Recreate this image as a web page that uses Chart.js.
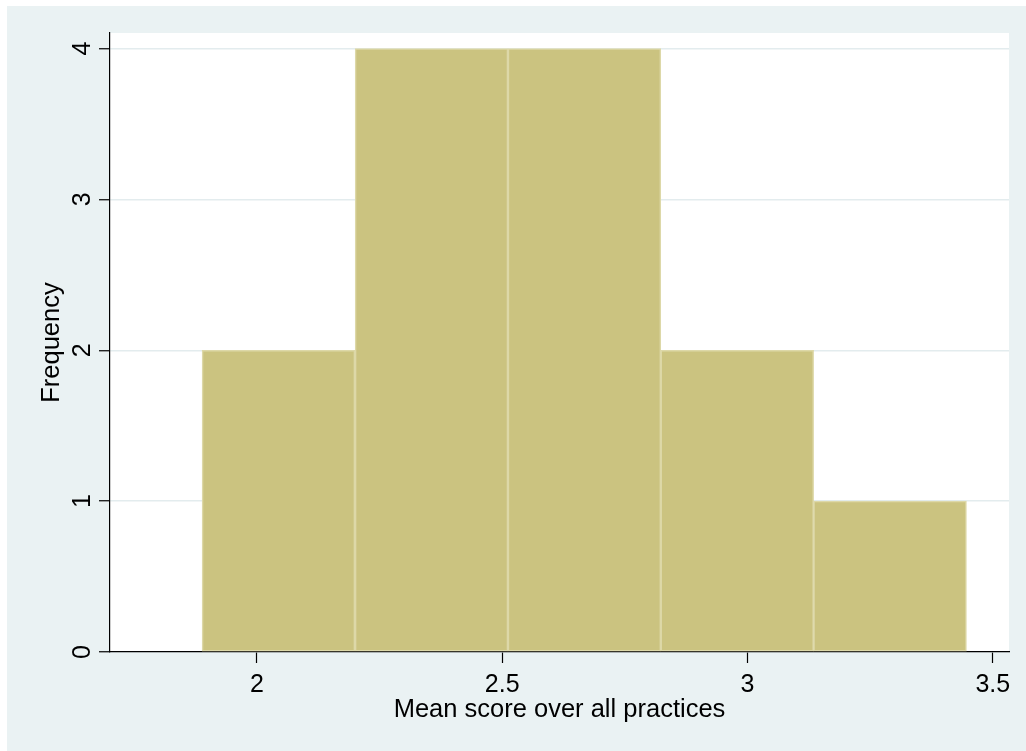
<!DOCTYPE html>
<html>
<head>
<meta charset="utf-8">
<title>Mean score over all practices</title>
<script src="https://cdn.jsdelivr.net/npm/chart.js@4/dist/chart.umd.min.js"></script>
<style>
  html, body { margin: 0; padding: 0; background: #ffffff; }
  #wrap { width: 1026px; height: 751px; position: relative; }
</style>
</head>
<body>
<div id="wrap"><canvas id="hist" width="1026" height="751"></canvas></div>
<script>
// Histogram bins: edges of the five bins and their frequencies
const binEdges = [1.888, 2.2, 2.512, 2.823, 3.135, 3.446];
const frequencies = [2, 4, 4, 2, 1];
const xTickValues = [2, 2.5, 3, 3.5];
const yTickValues = [0, 1, 2, 3, 4];
const xAxisTitle = 'Mean score over all practices';
const yAxisTitle = 'Frequency';

const FONT = '"Liberation Sans", Arial, Helvetica, sans-serif';
const OUTER_BG = '#EAF2F3';
const BAR_FILL = '#CBC380';
const BAR_EDGE = '#DDD8A8';
const GRID = '#E3ECEE';

const points = frequencies.map((f, i) => ({ x: (binEdges[i] + binEdges[i + 1]) / 2, y: f }));

const frame = {
  id: 'frame',
  beforeDraw(chart) {
    const { ctx, chartArea: a } = chart;
    ctx.save();
    ctx.fillStyle = '#ffffff';
    ctx.fillRect(0, 0, chart.width, chart.height);
    ctx.fillStyle = OUTER_BG;
    ctx.fillRect(7, 6, chart.width - 7, chart.height - 6);
    ctx.fillStyle = '#ffffff';
    ctx.fillRect(a.left, a.top, a.right - a.left, a.bottom - a.top);
    ctx.restore();
  },
  afterDraw(chart) {
    const { ctx, chartArea: a } = chart;
    const xs = chart.scales.x, ys = chart.scales.y;
    ctx.save();
    ctx.fillStyle = '#000000';
    // x tick labels
    ctx.font = '25px ' + FONT;
    ctx.textAlign = 'center';
    ctx.textBaseline = 'alphabetic';
    xTickValues.forEach(v => {
      ctx.fillText(String(v), xs.getPixelForValue(v), 692);
    });
    // y tick labels, rotated to read upward
    yTickValues.forEach(v => {
      ctx.save();
      ctx.translate(89.5, ys.getPixelForValue(v));
      ctx.rotate(-Math.PI / 2);
      ctx.fillText(String(v), 0, 0);
      ctx.restore();
    });
    // axis titles
    ctx.font = '25.5px ' + FONT;
    ctx.fillText(xAxisTitle, (a.left + a.right) / 2, 717);
    ctx.save();
    ctx.translate(59, (a.top + a.bottom) / 2);
    ctx.rotate(-Math.PI / 2);
    ctx.fillText(yAxisTitle, 0, 0);
    ctx.restore();
    ctx.restore();
  }
};

new Chart(document.getElementById('hist'), {
  type: 'bar',
  data: {
    datasets: [{
      data: points,
      backgroundColor: BAR_FILL,
      borderColor: BAR_EDGE,
      borderWidth: 1.5,
      borderSkipped: false,
      barPercentage: 1,
      categoryPercentage: 1
    }]
  },
  options: {
    responsive: false,
    devicePixelRatio: 1,
    animation: false,
    layout: { padding: { top: 33, right: 17, left: 0, bottom: 0 } },
    plugins: { legend: { display: false }, tooltip: { enabled: false } },
    scales: {
      x: {
        type: 'linear',
        min: 1.7006,
        max: 3.533,
        offset: false,
        afterBuildTicks(s) { s.ticks = xTickValues.map(v => ({ value: v })); },
        afterFit(s) { s.height = 99; },
        ticks: { display: false },
        grid: { offset: false, drawOnChartArea: false, drawTicks: true, tickLength: 11, tickColor: '#000000', tickWidth: 1.2 },
        border: { display: true, color: '#000000', width: 1.2 }
      },
      y: {
        type: 'linear',
        min: 0,
        max: 4.103,
        afterBuildTicks(s) { s.ticks = yTickValues.map(v => ({ value: v })); },
        afterFit(s) { s.width = 110; },
        ticks: { display: false },
        grid: { offset: false, color: GRID, lineWidth: 1.5, drawTicks: true, tickLength: 11, tickColor: '#000000', tickWidth: 1.2 },
        border: { display: true, color: '#000000', width: 1.2 }
      }
    }
  },
  plugins: [frame]
});
</script>
</body>
</html>
